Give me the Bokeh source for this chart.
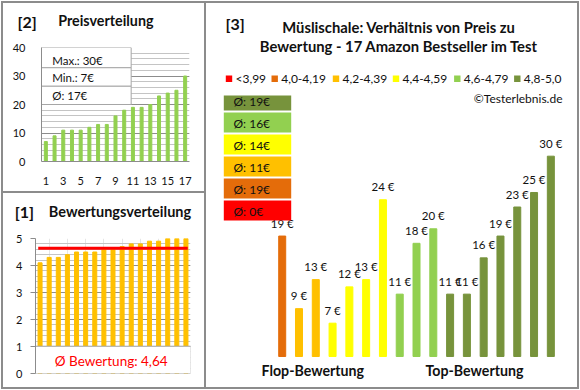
from bokeh.plotting import figure
from bokeh.models import Range1d, BoxAnnotation, Label, SingleIntervalTicker, FixedTicker, Spacer
from bokeh.layouts import row, column
from bokeh.embed import file_html
from bokeh.resources import INLINE
from bokeh.core.properties import value

FONT = "Lato"
GRAY = "#8c8c8c"
GRID_MAJOR = "#8c8c8c"
GRID_MINOR = "#c4c4c4"
BOX_LINE = "#a6a6a6"
TXT = "#111111"

# ---------------- data ----------------
prices_sorted = [7, 9, 11, 11, 11, 12, 13, 13, 16, 18, 19, 19, 20, 23, 24, 25, 30]
ratings_sorted = [4.1, 4.3, 4.3, 4.4, 4.5, 4.5, 4.5, 4.6, 4.6, 4.7, 4.8, 4.8, 4.9, 4.9, 5.0, 5.0, 5.0]
price_by_rating = [19, 9, 13, 7, 12, 13, 24, 11, 18, 20, 11, 11, 16, 19, 23, 25, 30]
class_of_bar = [1, 2, 2, 3, 3, 3, 3, 4, 4, 4, 5, 5, 5, 5, 5, 5, 5]
class_labels = ["<3,99", "4,0-4,19", "4,2-4,39", "4,4-4,59", "4,6-4,79", "4,8-5,0"]
class_colors = ["#FF0000", "#E46C0A", "#FFC000", "#FFFF00", "#92D050", "#77933C"]
price_xticks = [1, 3, 5, 7, 9, 11, 13, 15, 17]
price_tick_step = 10
rating_tick_step = 1

n = len(prices_sorted)
xs = list(range(1, n + 1))
avg_price = round(sum(prices_sorted) / n)
avg_rating = sum(ratings_sorted) / n


def class_avg(c):
    vals = [p for p, k in zip(price_by_rating, class_of_bar) if k == c]
    return round(sum(vals) / len(vals)) if vals else 0


def fmt_de(v, d=2):
    return f"{v:.{d}f}".replace(".", ",")


def no_align(p):
    if "frame_align" in p.properties():
        p.frame_align = False
    return p


def canvas_label(p, x, y, text, size, bold=False, align="left", color=TXT):
    p.add_layout(Label(x=x, y=y, x_units="canvas", y_units="canvas", text=text,
                       text_font=FONT, text_font_size=size,
                       text_font_style="bold" if bold else "normal",
                       text_align=align, text_baseline="middle", text_color=color))


def style_axis(ax, standoff, tick_out=0):
    ax.axis_line_color = GRAY
    ax.major_tick_line_color = GRAY if tick_out else None
    ax.major_tick_out = tick_out
    ax.major_tick_in = 0
    ax.minor_tick_line_color = None
    ax.major_label_standoff = standoff
    ax.major_label_text_font = FONT
    ax.major_label_text_font_size = "11px"
    ax.major_label_text_color = TXT


def header(width, height, items):
    # items: (x_px, y_px, text, size); a pixel-space panel holding a panel's heading
    h = figure(width=width, height=height, title=None, output_backend="svg",
               toolbar_location=None, tools="",
               x_range=Range1d(0, width), y_range=Range1d(height, 0),
               x_axis_location=None, y_axis_location=None, min_border=0,
               outline_line_color=None, border_fill_color="white", background_fill_color="white")
    h.grid.visible = False
    for x, y, t, s in items:
        h.text(x=[x], y=[y], text=[t], text_font=value(FONT), text_font_size=s,
               text_font_style="bold", text_baseline="middle", text_color=TXT)
    return no_align(h)


def strip(w, h):
    return Spacer(width=w, height=h, styles={"background-color": GRAY})


# ---------------- [2] Preisverteilung ----------------
ha = header(201, 36, [(14, 17.5, "[2]", "16px"), (54.7, 17, "Preisverteilung", "14.3px")])

pa = figure(width=201, height=152, title=None, x_range=Range1d(0.5, 17.5), y_range=Range1d(0, 40),
            output_backend="svg", toolbar_location=None, tools="",
            min_border_left=38, min_border_right=15, min_border_top=8, min_border_bottom=30,
            outline_line_color=None, border_fill_color="white", background_fill_color="white")
no_align(pa)
pa.yaxis.ticker = SingleIntervalTicker(interval=price_tick_step, num_minor_ticks=5)
pa.xaxis.ticker = FixedTicker(ticks=price_xticks)
style_axis(pa.yaxis[0], 12)
style_axis(pa.xaxis[0], 15)
pa.xgrid.grid_line_color = None
pa.ygrid.grid_line_color = GRID_MAJOR
pa.ygrid.minor_grid_line_color = GRID_MINOR
pa.vbar(x=xs, top=prices_sorted, width=0.345, color="#92D050")
pa.quad(left=[0.5] * 3, right=[10.8] * 3, top=[40, 32.9, 26.4], bottom=[32.9, 26.4, 20],
        fill_color="white", line_color=BOX_LINE, line_width=1)
pa.text(x=[1.73] * 3, y=[35.6, 29.4, 23.2],
        text=[f"Max.: {max(prices_sorted)}€", f"Min.: {min(prices_sorted)}€", f"Ø: {avg_price}€"],
        text_font=value(FONT), text_font_size="11.5px", text_baseline="middle", text_color=TXT)

# ---------------- [1] Bewertungsverteilung ----------------
hb = header(201, 33, [(11.3, 18, "[1]", "16px"), (45.3, 17.7, "Bewertungsverteilung", "14.5px")])

pb = figure(width=201, height=161, title=None, x_range=Range1d(0.5, 17.5), y_range=Range1d(0, 5),
            output_backend="svg", toolbar_location=None, tools="", x_axis_location=None,
            min_border_left=32, min_border_right=14, min_border_top=12, min_border_bottom=14,
            outline_line_color=None, border_fill_color="white", background_fill_color="white")
no_align(pb)
pb.yaxis.ticker = SingleIntervalTicker(interval=rating_tick_step, num_minor_ticks=5)
style_axis(pb.yaxis[0], 8, tick_out=5)
pb.ygrid.grid_line_color = GRID_MAJOR
pb.ygrid.minor_grid_line_color = GRID_MINOR
pb.vbar(x=xs, top=ratings_sorted, width=0.44, color="#FFC000")
pb.line(x=[0.8, 17.2], y=[avg_rating, avg_rating], line_width=3, color="#FF0000")
pb.quad(left=[0.5], right=[17.55], top=[1.01], bottom=[0],
        fill_color="white", line_color=BOX_LINE, line_width=1)
pb.text(x=[8.8], y=[0.48], text=[f"Ø Bewertung: {fmt_de(avg_rating)}"],
        text_font=value(FONT), text_font_size="13.5px", text_align="center",
        text_baseline="middle", text_color="#FF0000")

# ---------------- [3] Preis zu Bewertung ----------------
BASE = 2.41
pc = figure(width=371, height=384, title=None, x_range=Range1d(-3.509, 18.588), y_range=Range1d(-1.86, 51.03),
            output_backend="svg", toolbar_location=None, tools="",
            x_axis_location=None, y_axis_location=None, min_border=0,
            outline_line_color=None, border_fill_color="white", background_fill_color="white")
no_align(pc)
pc.grid.visible = False
bar_colors = [class_colors[k] for k in class_of_bar]
pc.vbar(x=xs, top=price_by_rating, bottom=BASE, width=0.417, color=bar_colors)
pc.text(x=xs, y=price_by_rating, text=[f"{v} €" for v in price_by_rating],
        text_font=value(FONT), text_font_size="11.5px", text_align="center",
        text_baseline="middle", y_offset=-13, text_color=TXT)

canvas_label(pc, 19, 19.5, "[3]", "16px", bold=True)
canvas_label(pc, 192.5, 23, "Müslischale: Verhältnis von Preis zu", "14.8px", bold=True, align="center")
canvas_label(pc, 192.5, 42.7, "Bewertung - 17 Amazon Bestseller im Test", "14.8px", bold=True, align="center")

# legend row
legend_text_x = [29, 74.7, 136, 196, 257.3, 317.3]
for tx, lab, col in zip(legend_text_x, class_labels, class_colors):
    pc.add_layout(BoxAnnotation(left=tx - 9.7, right=tx - 3.3, top=72, bottom=78.4,
                                left_units="canvas", right_units="canvas",
                                top_units="canvas", bottom_units="canvas",
                                fill_color=col, fill_alpha=1, line_color=None))
    canvas_label(pc, tx, 75, lab, "12px")
canvas_label(pc, 356, 95, "©Testerlebnis.de", "12px", align="right")

# average boxes (top to bottom: best class first)
box_tops = [92, 109, 131, 153, 175, 197]
box_bottoms = [107, 129, 151, 173, 195, 217]
for i, c in enumerate([5, 4, 3, 2, 1, 0]):
    pc.add_layout(BoxAnnotation(left=17.3, right=84.7, top=box_tops[i], bottom=box_bottoms[i],
                                left_units="canvas", right_units="canvas",
                                top_units="canvas", bottom_units="canvas",
                                fill_color=class_colors[c], fill_alpha=1, line_color=None))
    canvas_label(pc, 27, 98 + 22 * i, f"Ø: {class_avg(c)}€", "12px")

canvas_label(pc, 106.3, 367, "Flop-Bewertung", "14.2px", bold=True, align="center")
canvas_label(pc, 268, 367, "Top-Bewertung", "14.2px", bold=True, align="center")

# ---------------- layout with panel borders ----------------
left_col = column(row(ha), row(pa), strip(201, 2), row(hb), row(pb))
middle = row(Spacer(width=1, height=384), strip(2, 384), left_col, strip(2, 384), pc,
             strip(2, 384), Spacer(width=1, height=384))


def hline():
    return row(Spacer(width=1, height=2), strip(578, 2), Spacer(width=1, height=2))


layout = column(Spacer(width=580, height=1), hline(), middle, hline(), Spacer(width=580, height=1))
open("out.html", "w").write(file_html(layout, INLINE))
